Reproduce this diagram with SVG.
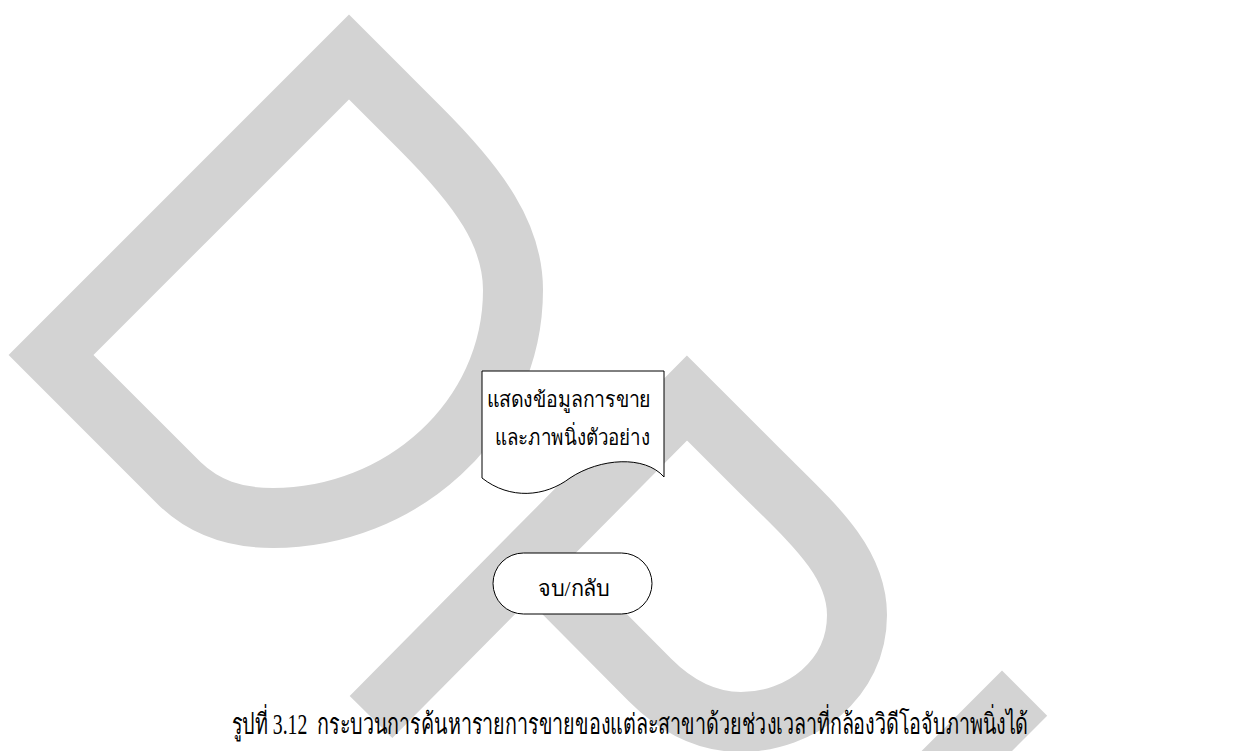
<svg xmlns="http://www.w3.org/2000/svg" width="1259" height="751" viewBox="0 0 1259 751">
  <style>
    .wm { fill: none; stroke: #d3d3d3; stroke-width: 60; stroke-linejoin: miter; stroke-miterlimit: 10; stroke-linecap: butt; }
    .shape { fill: #ffffff; stroke: #000000; stroke-width: 1; }
    .lbl { font-family: "Liberation Serif", "Noto Sans", serif; font-size: 22px; fill: #000000; }
    .cap { font-family: "Liberation Serif", "Noto Sans", serif; font-size: 29px; fill: #000000; white-space: pre; }
  </style>
  <rect x="0" y="0" width="1259" height="751" fill="#ffffff"/>
  <g id="watermark">
    <path class="wm" d="M 51,355 L 349,57 L 420,128 C 480,188 513,235 513,290 C 513,420 400,518 273,518 C 235,518 205,508 180,484 Z"/>
    <path class="wm" d="M 371,717 L 687,398 L 757,468 C 810,521 857,560 857,615 C 857,680 800,722 741,722 C 705,722 675,705 650,680 L 530,559"/>
    <path class="wm" d="M 1026,737 L 1002,713 L 700,1015"/>
  </g>
  <g id="connectors"></g>
  <g id="node-display">
    <path class="shape" d="M 482,371 L 664,371 L 664,477 C 645,455 600,458 570,478 C 545,497 510,500 482,478 Z"/>
    <text class="lbl" x="487" y="407" textLength="164" lengthAdjust="spacingAndGlyphs">แสดงข้อมูลการขาย</text>
    <text class="lbl" x="495" y="445" textLength="155" lengthAdjust="spacingAndGlyphs">และภาพนิ่งตัวอย่าง</text>
  </g>
  <g id="node-end">
    <rect class="shape" x="493" y="553" width="159" height="61" rx="30.5" ry="30.5"/>
    <text class="lbl" x="538" y="596" textLength="72" lengthAdjust="spacingAndGlyphs">จบ/กลับ</text>
  </g>
  <g id="caption">
    <text class="cap" xml:space="preserve" transform="translate(232,734) scale(0.68,1)" x="0" y="0" textLength="1170.6" lengthAdjust="spacingAndGlyphs">รูปที่ 3.12  กระบวนการค้นหารายการขายของแต่ละสาขาด้วยช่วงเวลาที่กล้องวิดีโอจับภาพนิ่งได้</text>
  </g>
</svg>
